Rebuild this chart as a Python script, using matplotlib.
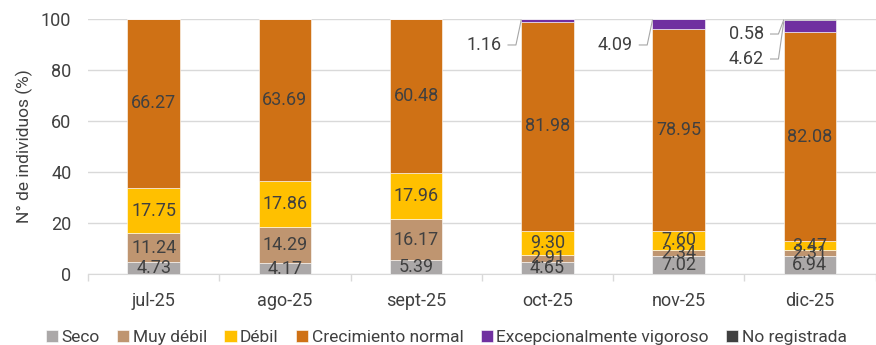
import matplotlib.pyplot as plt
import numpy as np

plt.rcParams['font.family'] = ['Roboto', 'DejaVu Sans']

meses = ["jul-25", "ago-25", "sept-25", "oct-25", "nov-25", "dic-25"]
categorias = ["Seco", "Muy débil", "Débil", "Crecimiento normal",
              "Excepcionalmente vigoroso", "No registrada"]
seco = [4.73, 4.17, 5.39, 4.65, 7.02, 6.94]
muy_debil = [11.24, 14.29, 16.17, 2.91, 2.34, 2.31]
debil = [17.75, 17.86, 17.96, 9.30, 7.60, 3.47]
normal = [66.27, 63.69, 60.48, 81.98, 78.95, 82.08]
vigoroso = [0, 0, 0, 1.16, 4.09, 4.62]
no_reg = [0, 0, 0, 0, 0, 0.58]
colores = ["#ABA8A8", "#BF9570", "#FFC000", "#CF7115", "#7030A0", "#404040"]

series = [seco, muy_debil, debil, normal, vigoroso, no_reg]
txt = "#404040"

fig = plt.figure(figsize=(8.76, 3.45), dpi=100)
ax = fig.add_axes([0.1005, 0.206, 0.899, 0.739])

x = np.arange(len(meses))
w = 0.4
bottom = np.zeros(len(meses))
for k, (vals, col, lab) in enumerate(zip(series, colores, categorias)):
    vals = np.array(vals)
    ax.bar(x, vals, w, bottom=bottom, color=col, label=lab,
           edgecolor="white", linewidth=0.4, zorder=3)
    if k < 4:
        for i, v in enumerate(vals):
            ax.text(i, bottom[i] + v / 2, f"{v:.2f}", ha="center", va="center",
                    fontsize=13, color=txt, zorder=4)
    bottom += vals

# leader-line labels for the small top segments
def leader(i, yb, ytext, value):
    xl = i - w / 2
    x1 = xl - 0.04
    x0 = x1 - 0.06
    ax.plot([x0, x1, xl], [ytext, ytext, yb], color="#A6A6A6", lw=0.8,
            zorder=5, clip_on=False)
    ax.text(x0 - 0.05, ytext, f"{value:.2f}", ha="right", va="center",
            fontsize=13, color=txt)

leader(3, 99.5, 89.8, vigoroso[3])
leader(4, 99.5, 89.8, vigoroso[4])
leader(5, 99.6, 94.1, no_reg[5])
leader(5, 98.7, 84.3, vigoroso[5])

ax.set_ylim(0, 100)
ax.set_xlim(-0.5, 5.44)
ax.set_yticks(range(0, 101, 20))
ax.yaxis.grid(True, color="#D9D9D9", lw=1, zorder=0)
ax.set_axisbelow(True)
ax.set_xticks(x)
ax.set_xticklabels(meses)
ax.set_xticks(np.arange(-0.5, 6, 1), minor=True)
ax.tick_params(axis="x", which="major", length=0, pad=13, labelsize=13, labelcolor=txt)
ax.tick_params(axis="x", which="minor", length=5, color="#D9D9D9", width=1)
ax.tick_params(axis="y", length=0, pad=12, labelsize=13, labelcolor=txt)
for s in ["top", "right", "left"]:
    ax.spines[s].set_visible(False)
ax.spines["bottom"].set_color("#D9D9D9")
ax.set_ylabel("N° de individuos (%)", fontsize=12.5, color=txt, labelpad=6)

ax.legend(loc="lower center", bbox_to_anchor=(0.455, -0.305), ncol=6, frameon=False,
          fontsize=12.5, handlelength=0.7, handleheight=0.7, handletextpad=0.2,
          columnspacing=1.0, labelcolor=txt, borderaxespad=0)

fig.savefig("out.png", dpi=100)
